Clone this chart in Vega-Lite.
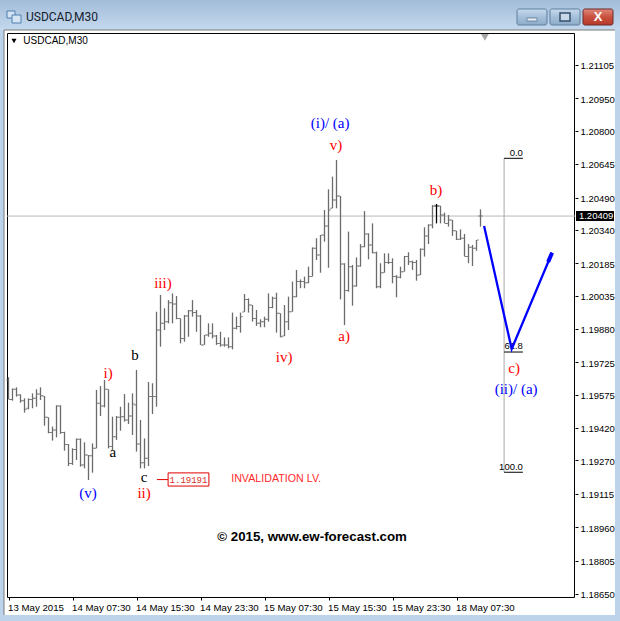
{"$schema":"https://vega.github.io/schema/vega-lite/v6.json","width":568,"height":564,"autosize":"none","padding":{"left":7,"top":33,"right":45,"bottom":24},"background":"#bcd3ea","config":{"view":{"stroke":null}},
"datasets":{"bars":[
{"i":0,"o":1.19643,"h":1.19656,"l":1.19553,"c":1.19553},{"i":1,"o":1.19553,"h":1.19604,"l":1.19547,"c":1.196},{"i":2,"o":1.196,"h":1.19609,"l":1.19566,"c":1.19573},{"i":3,"o":1.19573,"h":1.19577,"l":1.19538,"c":1.19547},{"i":4,"o":1.19547,"h":1.19558,"l":1.19492,"c":1.19507},{"i":5,"o":1.19512,"h":1.19558,"l":1.19507,"c":1.19553},{"i":6,"o":1.19553,"h":1.19581,"l":1.19512,"c":1.19558},{"i":7,"o":1.19558,"h":1.196,"l":1.19519,"c":1.19578},{"i":8,"o":1.19578,"h":1.19609,"l":1.1955,"c":1.1957},{"i":9,"o":1.19569,"h":1.19569,"l":1.19431,"c":1.1947},
{"i":10,"o":1.1947,"h":1.1947,"l":1.19396,"c":1.19399},{"i":11,"o":1.19399,"h":1.19427,"l":1.19362,"c":1.19411},{"i":12,"o":1.19411,"h":1.19526,"l":1.19377,"c":1.19522},{"i":13,"o":1.19522,"h":1.19526,"l":1.19393,"c":1.19399},{"i":14,"o":1.19399,"h":1.19403,"l":1.19315,"c":1.19344},{"i":15,"o":1.19344,"h":1.19346,"l":1.19244,"c":1.19256},{"i":16,"o":1.19256,"h":1.19326,"l":1.19249,"c":1.19321},{"i":17,"o":1.19321,"h":1.19372,"l":1.19272,"c":1.19368},{"i":18,"o":1.19368,"h":1.19372,"l":1.19241,"c":1.19249},{"i":19,"o":1.19249,"h":1.19354,"l":1.19233,"c":1.19295},
{"i":20,"o":1.19295,"h":1.19295,"l":1.19179,"c":1.19292},{"i":21,"o":1.19292,"h":1.19349,"l":1.19213,"c":1.19326},{"i":22,"o":1.19326,"h":1.19597,"l":1.19326,"c":1.19535},{"i":23,"o":1.19535,"h":1.19615,"l":1.19476,"c":1.19522},{"i":24,"o":1.19522,"h":1.19643,"l":1.19516,"c":1.196},{"i":25,"o":1.196,"h":1.196,"l":1.19326,"c":1.19334},{"i":26,"o":1.19334,"h":1.19473,"l":1.19318,"c":1.1938},{"i":27,"o":1.1938,"h":1.19476,"l":1.19365,"c":1.1947},{"i":28,"o":1.1947,"h":1.19519,"l":1.19408,"c":1.19473},{"i":29,"o":1.19473,"h":1.19578,"l":1.1945,"c":1.19458},
{"i":30,"o":1.19458,"h":1.19538,"l":1.19439,"c":1.19476},{"i":31,"o":1.19476,"h":1.19581,"l":1.19388,"c":1.19532},{"i":32,"o":1.19527,"h":1.1969,"l":1.19311,"c":1.19346},{"i":33,"o":1.19346,"h":1.19458,"l":1.19233,"c":1.19259},{"i":34,"o":1.19259,"h":1.19372,"l":1.19233,"c":1.1928},{"i":35,"o":1.1928,"h":1.19634,"l":1.19244,"c":1.19566},{"i":36,"o":1.19566,"h":1.19628,"l":1.19485,"c":1.19566},{"i":37,"o":1.19566,"h":1.1996,"l":1.19519,"c":1.19875},{"i":38,"o":1.19875,"h":1.20038,"l":1.19798,"c":1.19906},{"i":39,"o":1.19906,"h":1.19976,"l":1.19875,"c":1.19914},
{"i":40,"o":1.19914,"h":1.20014,"l":1.19906,"c":1.20002},{"i":41,"o":1.20002,"h":1.20045,"l":1.19906,"c":1.19996},{"i":42,"o":1.19996,"h":1.20033,"l":1.19925,"c":1.19929},{"i":43,"o":1.19929,"h":1.19929,"l":1.19813,"c":1.19836},{"i":44,"o":1.19836,"h":1.19945,"l":1.19821,"c":1.1994},{"i":45,"o":1.1994,"h":1.19968,"l":1.19844,"c":1.19965},{"i":46,"o":1.19965,"h":1.20014,"l":1.19937,"c":1.19956},{"i":47,"o":1.19956,"h":1.19968,"l":1.19867,"c":1.1994},{"i":48,"o":1.1994,"h":1.19945,"l":1.19806,"c":1.19806},{"i":49,"o":1.19806,"h":1.19852,"l":1.19806,"c":1.19852},
{"i":50,"o":1.19852,"h":1.19906,"l":1.19844,"c":1.1986},{"i":51,"o":1.1986,"h":1.19906,"l":1.19836,"c":1.19847},{"i":52,"o":1.19847,"h":1.19852,"l":1.19806,"c":1.19813},{"i":53,"o":1.19813,"h":1.19867,"l":1.19798,"c":1.19806},{"i":54,"o":1.19806,"h":1.19841,"l":1.19798,"c":1.19806},{"i":55,"o":1.19806,"h":1.19841,"l":1.1979,"c":1.19798},{"i":56,"o":1.19798,"h":1.19956,"l":1.19785,"c":1.19883},{"i":57,"o":1.19883,"h":1.19937,"l":1.19878,"c":1.19891},{"i":58,"o":1.19891,"h":1.19956,"l":1.19863,"c":1.19937},{"i":59,"o":1.19959,"h":1.20042,"l":1.19959,"c":1.20017},
{"i":60,"o":1.20017,"h":1.20022,"l":1.19956,"c":1.19991},{"i":61,"o":1.19991,"h":1.19991,"l":1.19914,"c":1.19929},{"i":62,"o":1.19929,"h":1.19968,"l":1.19894,"c":1.19906},{"i":63,"o":1.19906,"h":1.19925,"l":1.19888,"c":1.19914},{"i":64,"o":1.19914,"h":1.19937,"l":1.19888,"c":1.19925},{"i":65,"o":1.19925,"h":1.20045,"l":1.19914,"c":1.1998},{"i":66,"o":1.1998,"h":1.2003,"l":1.19976,"c":1.20022},{"i":67,"o":1.20022,"h":1.20048,"l":1.19863,"c":1.19953},{"i":68,"o":1.19953,"h":1.19953,"l":1.19841,"c":1.19844},{"i":69,"o":1.19847,"h":1.19991,"l":1.19847,"c":1.19914},
{"i":70,"o":1.19914,"h":1.2003,"l":1.19875,"c":1.1996},{"i":71,"o":1.1996,"h":1.201,"l":1.1996,"c":1.2003},{"i":72,"o":1.2003,"h":1.20154,"l":1.20027,"c":1.201},{"i":73,"o":1.201,"h":1.2011,"l":1.20069,"c":1.201},{"i":74,"o":1.201,"h":1.20123,"l":1.20069,"c":1.20095},{"i":75,"o":1.20095,"h":1.20169,"l":1.20092,"c":1.20123},{"i":76,"o":1.20123,"h":1.20259,"l":1.20123,"c":1.20254},{"i":77,"o":1.20254,"h":1.20301,"l":1.202,"c":1.20223},{"i":78,"o":1.20223,"h":1.20316,"l":1.20141,"c":1.20316},{"i":79,"o":1.20316,"h":1.20432,"l":1.20285,"c":1.20358},
{"i":80,"o":1.20358,"h":1.20528,"l":1.20164,"c":1.20432},{"i":81,"o":1.2044,"h":1.20587,"l":1.2044,"c":1.20478},{"i":82,"o":1.20478,"h":1.20664,"l":1.2044,"c":1.20497},{"i":83,"o":1.20497,"h":1.20497,"l":1.20017,"c":1.20181},{"i":84,"o":1.20181,"h":1.20185,"l":1.19898,"c":1.20058},{"i":85,"o":1.20058,"h":1.20332,"l":1.20053,"c":1.20169},{"i":86,"o":1.20169,"h":1.20177,"l":1.19988,"c":1.20079},{"i":87,"o":1.20079,"h":1.20212,"l":1.20076,"c":1.20172},{"i":88,"o":1.20172,"h":1.20274,"l":1.20169,"c":1.20262},{"i":89,"o":1.20262,"h":1.20427,"l":1.20259,"c":1.20321},
{"i":90,"o":1.20321,"h":1.20324,"l":1.20203,"c":1.2027},{"i":91,"o":1.2027,"h":1.2037,"l":1.20231,"c":1.20234},{"i":92,"o":1.20234,"h":1.20239,"l":1.20069,"c":1.20076},{"i":93,"o":1.20076,"h":1.20185,"l":1.20069,"c":1.20141},{"i":94,"o":1.20141,"h":1.20231,"l":1.20141,"c":1.20188},{"i":95,"o":1.20188,"h":1.20231,"l":1.20181,"c":1.20188},{"i":96,"o":1.20188,"h":1.20208,"l":1.20092,"c":1.20123},{"i":97,"o":1.20123,"h":1.2013,"l":1.20027,"c":1.2012},{"i":98,"o":1.2012,"h":1.20169,"l":1.20115,"c":1.20146},{"i":99,"o":1.20146,"h":1.20219,"l":1.20146,"c":1.20216},
{"i":100,"o":1.20216,"h":1.20236,"l":1.20177,"c":1.20192},{"i":101,"o":1.20192,"h":1.20197,"l":1.20154,"c":1.20188},{"i":102,"o":1.20188,"h":1.202,"l":1.20104,"c":1.2013},{"i":103,"o":1.2013,"h":1.20254,"l":1.2013,"c":1.2025},{"i":104,"o":1.2025,"h":1.20352,"l":1.20216,"c":1.20312},{"i":105,"o":1.20312,"h":1.20366,"l":1.20274,"c":1.20362},{"i":106,"o":1.20362,"h":1.20455,"l":1.20347,"c":1.20451},{"i":107,"o":1.20451,"h":1.2046,"l":1.2037,"c":1.20451},{"i":108,"o":1.20451,"h":1.20452,"l":1.2037,"c":1.20409},{"i":109,"o":1.20409,"h":1.2042,"l":1.2037,"c":1.2037},
{"i":110,"o":1.2037,"h":1.20409,"l":1.20355,"c":1.20386},{"i":111,"o":1.20386,"h":1.20386,"l":1.20312,"c":1.20336},{"i":112,"o":1.20336,"h":1.20336,"l":1.20293,"c":1.20296},{"i":113,"o":1.20296,"h":1.20342,"l":1.20293,"c":1.20301},{"i":114,"o":1.20301,"h":1.20321,"l":1.20216,"c":1.20216},{"i":115,"o":1.20216,"h":1.20274,"l":1.20185,"c":1.20259},{"i":116,"o":1.20259,"h":1.2027,"l":1.20172,"c":1.20254},{"i":117,"o":1.20254,"h":1.20293,"l":1.20243,"c":1.20293},{"i":118,"o":1.20404,"h":1.20435,"l":1.20355,"c":1.20404}],
"waves":[{"t":"(i)/ (a)","g":"major","i":80.4,"p":1.20836},{"t":"v)","g":"minor","i":81.9,"p":1.20734},{"t":"b)","g":"minor","i":106.9,"p":1.20525},{"t":"iii)","g":"minor","i":38.6,"p":1.20093},{"t":"iv)","g":"minor","i":68.9,"p":1.1975},{"t":"a)","g":"minor","i":83.9,"p":1.19847},{"t":"i)","g":"minor","i":24.9,"p":1.19676},{"t":"b","g":"sub","i":31.6,"p":1.19759},{"t":"a","g":"sub","i":26.1,"p":1.19309},{"t":"c","g":"sub","i":33.9,"p":1.19193},{"t":"ii)","g":"minor","i":33.9,"p":1.19119},{"t":"(v)","g":"major","i":19.9,"p":1.19119},{"t":"c)","g":"minor","i":126.4,"p":1.19699},{"t":"(ii)/ (a)","g":"major","i":126.9,"p":1.19601}],
"fib":[{"t":"0.0","a":123.9,"b":128.6,"p":1.20672,"lp":1.20698},{"t":"61.8","a":123.9,"b":128.6,"p":1.19773,"lp":1.19801},{"t":"100.0","a":123.9,"b":128.6,"p":1.19215,"lp":1.19241}]},
"encoding":{
"x":{"type":"quantitative","scale":{"domain":[-0.375,141.625],"nice":false,"zero":false},"axis":{"orient":"bottom","zindex":1,"grid":false,"domain":false,"title":null,"tickColor":"#000","tickSize":3,"labelColor":"#000","labelFont":"Liberation Sans","labelFontSize":9.7,"values":[0,16,32,48,64,80,96,112],"labelAlign":"left","labelPadding":2,"labelOffset":-1,"labelBound":false,"labelFlush":false,"labelOverlap":false,"labelExpr":"['13 May 2015','14 May 07:30','14 May 15:30','14 May 23:30','15 May 07:30','15 May 15:30','15 May 23:30','18 May 07:30'][datum.value/16]"}},
"y":{"type":"quantitative","scale":{"domain":[1.186361,1.212535],"nice":false,"zero":false},"axis":{"orient":"right","zindex":1,"grid":false,"domain":false,"title":null,"tickColor":"#000","tickSize":3,"labelColor":"#000","labelFont":"Liberation Sans","labelFontSize":9.5,"labelOffset":0.8,"values":[1.21105,1.2095,1.208,1.20645,1.2049,1.2034,1.20185,1.20035,1.1988,1.19725,1.19575,1.1942,1.1927,1.19115,1.1896,1.18805,1.1865],"format":".5f","labelPadding":2,"labelOverlap":false,"labelBound":false,"labelFlush":false}}},
"layer":[
{"data":{"values":[{"x":-2.125,"x2":152.875,"y":1.214067,"y2":1.212674}]},"mark":{"type":"rect","fill":{"gradient":"linear","x1":0,"y1":0,"x2":0,"y2":1,"stops":[{"offset":0,"color":"#a3bcd8"},{"offset":1,"color":"#c4d9ee"}]}},"encoding":{"x":{"field":"x"},"x2":{"field":"x2"},"y":{"field":"y"},"y2":{"field":"y2"}}},
{"data":{"values":[{"x":-1.125,"x2":151.625,"y":1.212674,"y2":1.185526}]},"mark":{"type":"rect","fill":"#fff"},"encoding":{"x":{"field":"x"},"x2":{"field":"x2"},"y":{"field":"y"},"y2":{"field":"y2"}}},
{"data":{"values":[{"a":-1.125,"b":151.625,"p":1.212674}]},"mark":{"type":"rule","color":"#7a7a7a","strokeWidth":1},"encoding":{"x":{"field":"a"},"x2":{"field":"b"},"y":{"field":"p"}}},
{"data":{"values":[{"i":-1.125,"a":1.212674,"b":1.185526}]},"mark":{"type":"rule","color":"#7a7a7a","strokeWidth":1},"encoding":{"x":{"field":"i"},"y":{"field":"a"},"y2":{"field":"b"}}},
{"data":{"values":[{"x":-0.375,"x2":1.625,"y":1.213556,"y2":1.213231},{"x":0.875,"x2":3.125,"y":1.21337,"y2":1.212999}]},"mark":{"type":"rect","fill":"#d5e4f3","stroke":"#4f7fb0","strokeWidth":1},"encoding":{"x":{"field":"x"},"x2":{"field":"x2"},"y":{"field":"y"},"y2":{"field":"y2"}}},
{"data":{"values":[{"x":127.125,"x2":134.625,"y":1.213649,"y2":1.212906},{"x":135.375,"x2":142.875,"y":1.213649,"y2":1.212906}]},"mark":{"type":"rect","cornerRadius":2,"stroke":"#5e7f9f","strokeWidth":1,"fill":{"gradient":"linear","x1":0,"y1":0,"x2":0,"y2":1,"stops":[{"offset":0,"color":"#c8daec"},{"offset":0.5,"color":"#a5bfd9"},{"offset":1,"color":"#8cabc9"}]}},"encoding":{"x":{"field":"x"},"x2":{"field":"x2"},"y":{"field":"y"},"y2":{"field":"y2"}}},
{"data":{"values":[{"x":143.625,"x2":151.125,"y":1.213649,"y2":1.212906}]},"mark":{"type":"rect","cornerRadius":2,"stroke":"#6e2a2a","strokeWidth":1,"fill":{"gradient":"linear","x1":0,"y1":0,"x2":0,"y2":1,"stops":[{"offset":0,"color":"#e08a7c"},{"offset":0.5,"color":"#c9503f"},{"offset":1,"color":"#b5392a"}]}},"encoding":{"x":{"field":"x"},"x2":{"field":"x2"},"y":{"field":"y"},"y2":{"field":"y2"}}},
{"data":{"values":[{"x":129.625,"x2":132.125,"y":1.213231,"y2":1.213092}]},"mark":{"type":"rect","fill":"#e8eef5","stroke":"#4a6a88","strokeWidth":0.7},"encoding":{"x":{"field":"x"},"x2":{"field":"x2"},"y":{"field":"y"},"y2":{"field":"y2"}}},
{"data":{"values":[{"x":137.875,"x2":140.375,"y":1.213463,"y2":1.213092}]},"mark":{"type":"rect","fill":"#c9d9e8","stroke":"#33506b","strokeWidth":1.5},"encoding":{"x":{"field":"x"},"x2":{"field":"x2"},"y":{"field":"y"},"y2":{"field":"y2"}}},
{"data":{"values":[{"t":"X","i":147.4,"p":1.213278}]},"mark":{"type":"text","font":"Liberation Sans","fontWeight":"bold","fontSize":13,"color":"#fff"},"encoding":{"x":{"field":"i"},"y":{"field":"p"},"text":{"field":"t"}}},
{"data":{"values":[{"t":"USDCAD,M30","i":4.375,"p":1.213278}]},"mark":{"type":"text","font":"Roboto","fontSize":12,"align":"left","color":"#14202e"},"encoding":{"x":{"field":"i"},"y":{"field":"p"},"text":{"field":"t"}}},
{"data":{"values":[{"x":-0.25,"x2":141.5,"y":1.212512,"y2":1.186338}]},"mark":{"type":"rect","fill":null,"stroke":"#000","strokeWidth":1},"encoding":{"x":{"field":"x"},"x2":{"field":"x2"},"y":{"field":"y"},"y2":{"field":"y2"}}},
{"data":{"values":[{"t":"USDCAD,M30","i":3.7,"p":1.212145}]},"mark":{"type":"text","font":"Liberation Sans","fontSize":10,"align":"left","color":"#000"},"encoding":{"x":{"field":"i"},"y":{"field":"p"},"text":{"field":"t"}}},
{"data":{"values":[{"i":1.375,"p":1.212164}]},"mark":{"type":"point","shape":"triangle-down","filled":true,"size":26,"color":"#000","opacity":1},"encoding":{"x":{"field":"i"},"y":{"field":"p"}}},
{"data":{"values":[{"i":119.1,"p":1.21233}]},"mark":{"type":"point","shape":"triangle-down","filled":true,"size":60,"color":"#a8a8a8","opacity":1},"encoding":{"x":{"field":"i"},"y":{"field":"p"}}},
{"data":{"values":[{"a":-0.375,"b":141.625,"p":1.20404}]},"mark":{"type":"rule","color":"#b8b8b8","strokeWidth":1},"encoding":{"x":{"field":"a"},"x2":{"field":"b"},"y":{"field":"p"}}},
{"data":{"name":"bars"},"mark":{"type":"rule","strokeWidth":1.3},"encoding":{"x":{"field":"i"},"y":{"field":"h"},"y2":{"field":"l"},"color":{"condition":{"test":"datum.i===107","value":"#000"},"value":"#6b6b6b"}}},
{"data":{"name":"bars"},"mark":{"type":"tick","orient":"horizontal","size":1.5,"thickness":1,"xOffset":-1.4,"opacity":1},"encoding":{"x":{"field":"i"},"y":{"field":"o"},"color":{"condition":{"test":"datum.i===107","value":"#000"},"value":"#6b6b6b"}}},
{"data":{"name":"bars"},"mark":{"type":"tick","orient":"horizontal","size":1.5,"thickness":1,"xOffset":1.4,"opacity":1},"encoding":{"x":{"field":"i"},"y":{"field":"c"},"color":{"condition":{"test":"datum.i===107","value":"#000"},"value":"#6b6b6b"}}},
{"data":{"values":[{"i":123.9,"a":1.20672,"b":1.19215}]},"mark":{"type":"rule","color":"#a8a8a8","strokeWidth":1},"encoding":{"x":{"field":"i"},"y":{"field":"a"},"y2":{"field":"b"}}},
{"data":{"name":"fib"},"mark":{"type":"rule","color":"#000","strokeWidth":1},"encoding":{"x":{"field":"a"},"x2":{"field":"b"},"y":{"field":"p"}}},
{"data":{"name":"fib"},"mark":{"type":"text","font":"Liberation Sans","fontSize":9.5,"align":"right","color":"#000"},"encoding":{"x":{"field":"b"},"y":{"field":"lp"},"text":{"field":"t"}}},
{"data":{"values":[{"s":"main","i":118.9,"p":1.20358},{"s":"main","i":125.8,"p":1.19787},{"s":"main","i":135.9,"p":1.20234}]},"mark":{"type":"line","color":"#0000ff","strokeWidth":2.3,"strokeJoin":"miter","clip":false},"encoding":{"x":{"field":"i"},"y":{"field":"p"},"order":{"field":"i"}}},
{"data":{"values":[{"s":"head","i":134.9,"p":1.20191},{"s":"head","i":135.9,"p":1.20234}]},"mark":{"type":"line","color":"#0000ff","strokeWidth":4},"encoding":{"x":{"field":"i"},"y":{"field":"p"},"order":{"field":"i"}}},
{"data":{"name":"waves"},"mark":{"type":"text","font":"Liberation Serif","fontSize":15},"encoding":{"x":{"field":"i"},"y":{"field":"p"},"text":{"field":"t"},"color":{"field":"g","type":"nominal","legend":null,"scale":{"domain":["major","minor","sub"],"range":["#0000ff","#ff0000","#000000"]}}}},
{"data":{"values":[{"a":37.1,"b":39.9,"p":1.19181}]},"mark":{"type":"rule","color":"#e00000","strokeWidth":1},"encoding":{"x":{"field":"a"},"x2":{"field":"b"},"y":{"field":"p"}}},
{"data":{"values":[{"x":39.9,"x2":50.1,"y":1.19212,"y2":1.19151}]},"mark":{"type":"rect","fill":"#fff","stroke":"#e00000","strokeWidth":1},"encoding":{"x":{"field":"x"},"x2":{"field":"x2"},"y":{"field":"y"},"y2":{"field":"y2"}}},
{"data":{"values":[{"t":"1.19191","i":45,"p":1.19181}]},"mark":{"type":"text","font":"Liberation Mono","fontSize":9,"color":"#d8301f"},"encoding":{"x":{"field":"i"},"y":{"field":"p"},"text":{"field":"t"}}},
{"data":{"values":[{"t":"INVALIDATION LV.","i":66.9,"p":1.19184}]},"mark":{"type":"text","font":"Liberation Sans","fontSize":10.7,"color":"#ff2a2a"},"encoding":{"x":{"field":"i"},"y":{"field":"p"},"text":{"field":"t"}}},
{"data":{"values":[{"t":"© 2015, www.ew-forecast.com","i":75.9,"p":1.18915}]},"mark":{"type":"text","font":"Liberation Sans","fontWeight":"bold","fontSize":13.3,"color":"#000"},"encoding":{"x":{"field":"i"},"y":{"field":"p"},"text":{"field":"t"}}},
{"data":{"values":[{"x":141.875,"x2":151.375,"y":1.204274,"y2":1.20381}]},"mark":{"type":"rect","fill":"#000"},"encoding":{"x":{"field":"x"},"x2":{"field":"x2"},"y":{"field":"y"},"y2":{"field":"y2"}}},
{"data":{"values":[{"t":"1.20409","i":146.9,"p":1.20402}]},"mark":{"type":"text","font":"Liberation Sans","fontSize":9.5,"color":"#fff"},"encoding":{"x":{"field":"i"},"y":{"field":"p"},"text":{"field":"t"}}}
]}
